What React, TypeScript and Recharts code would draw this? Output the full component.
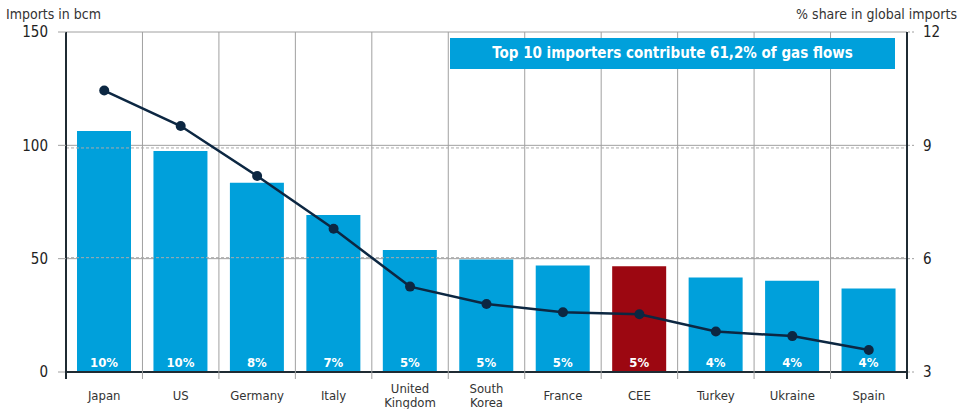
import {
  ComposedChart,
  Bar,
  Line,
  XAxis,
  YAxis,
  CartesianGrid,
  ReferenceLine,
  LabelList,
  Cell,
} from "recharts";

const countries = [
  "Japan",
  "US",
  "Germany",
  "Italy",
  "United Kingdom",
  "South Korea",
  "France",
  "CEE",
  "Turkey",
  "Ukraine",
  "Spain",
];
const importsBcm = [106.3, 97.5, 83.5, 69.3, 53.8, 49.6, 47.0, 46.6, 41.7, 40.3, 36.8];
const sharePct = [10.45, 9.51, 8.19, 6.79, 5.26, 4.8, 4.58, 4.53, 4.07, 3.95, 3.58];
const shareLabels = ["10%", "10%", "8%", "7%", "5%", "5%", "5%", "5%", "4%", "4%", "4%"];
const highlighted = "CEE";
const leftTicks = [0, 50, 100, 150];
const rightTicks = [3, 6, 9, 12];
const dashedLevels = [6, 9];

const data = countries.map((c, i) => ({
  country: c,
  bcm: importsBcm[i],
  share: sharePct[i],
  label: shareLabels[i],
}));

const FONT = '"DejaVu Sans Condensed", "DejaVu Sans", sans-serif';
const BLUE = "#00a0db";
const RED = "#9c0711";
const NAVY = "#0c2742";
const AXIS = "#1f2b33";
const GRID = "#a0a0a0";

function CountryTick(props: any) {
  const { x, y, payload, index, visibleTicksCount } = props;
  const half = payload.offset ?? 0;
  const lines = String(payload.value).split(" ");
  const first = lines.length > 1 ? 16 : 23;
  const firstTick = index === 0;
  return (
    <g>
      <line
        x1={x - half}
        x2={x - half}
        y1={y - 1}
        y2={y + 7}
        stroke={firstTick ? AXIS : GRID}
        strokeWidth={firstTick ? 2 : 1}
      />
      {index === visibleTicksCount - 1 && (
        <line x1={x + half} x2={x + half} y1={y - 1} y2={y + 7} stroke={AXIS} strokeWidth={2} />
      )}
      <text x={x} y={y} textAnchor="middle" fill="#333" fontSize={13} fontFamily={FONT}>
        {lines.map((l, i) => (
          <tspan key={i} x={x} y={y + first + i * 14} dominantBaseline="central">
            {l}
          </tspan>
        ))}
      </text>
    </g>
  );
}

// vertical grid lines sit on the borders between categories
const categoryBorders = ({ offset }: any) =>
  Array.from({ length: countries.length + 1 }, (_, i) => offset.left + (offset.width * i) / countries.length);

export default function App() {
  return (
    <div style={{ position: "absolute", left: 0, top: 0, width: 969, height: 409, fontFamily: FONT, background: "#fff" }}>
      <div style={{ position: "absolute", left: 6, top: 4, fontSize: 14, color: "#333", lineHeight: "20px" }}>
        Imports in bcm
      </div>
      <div style={{ position: "absolute", right: 12, top: 4, fontSize: 14, color: "#333", lineHeight: "20px" }}>
        % share in global imports
      </div>
      <ComposedChart
        width={969}
        height={409}
        data={data}
        margin={{ top: 32, right: 0, bottom: 0, left: 0 }}
      >
        <XAxis
          xAxisId="cat"
          dataKey="country"
          height={37}
          interval={0}
          tickLine={false}
          tickSize={0}
          tickMargin={0}
          axisLine={{ stroke: AXIS, strokeWidth: 2 }}
          tick={<CountryTick />}
        />
        <YAxis
          yAxisId="left"
          width={66}
          domain={[0, 150]}
          ticks={leftTicks}
          tickSize={8}
          tickMargin={10}
          tickLine={{ stroke: GRID }}
          axisLine={{ stroke: AXIS, strokeWidth: 2 }}
          tick={{ fill: "#222", fontSize: 15, fontFamily: FONT }}
        />
        <YAxis
          yAxisId="right"
          orientation="right"
          width={62}
          domain={[3, 12]}
          ticks={rightTicks}
          tickSize={7}
          tickMargin={9}
          tickLine={{ stroke: GRID, strokeDasharray: "2 2" }}
          axisLine={{ stroke: AXIS, strokeWidth: 2 }}
          tick={{ fill: "#222", fontSize: 15, fontFamily: FONT }}
        />
        <YAxis yAxisId="dash" hide width={0} domain={[2.874, 12.17]} allowDataOverflow />
        <CartesianGrid
          xAxisId="cat"
          yAxisId="left"
          stroke={GRID}
          verticalCoordinatesGenerator={categoryBorders}
        />
        {dashedLevels.map((v) => (
          <ReferenceLine
            key={v}
            yAxisId="dash"
            xAxisId="cat"
            y={v}
            stroke="#aaaaaa"
            strokeDasharray="3 2"
          />
        ))}
        <Bar xAxisId="cat" yAxisId="left" dataKey="bcm" barSize={54} isAnimationActive={false}>
          {data.map((d) => (
            <Cell key={d.country} fill={d.country === highlighted ? RED : BLUE} />
          ))}
          <LabelList
            dataKey="label"
            position="insideBottom"
            offset={5}
            fill="#fff"
            fontSize={13}
            fontWeight="bold"
            fontFamily={FONT}
          />
        </Bar>
        <Line
          xAxisId="cat"
          yAxisId="right"
          dataKey="share"
          stroke={NAVY}
          strokeWidth={2.5}
          dot={{ r: 5, fill: NAVY, stroke: NAVY, strokeWidth: 0 }}
          activeDot={false}
          isAnimationActive={false}
        />
      </ComposedChart>
      <div
        style={{
          position: "absolute",
          left: 450,
          top: 38,
          width: 445,
          height: 31,
          background: BLUE,
          color: "#fff",
          fontWeight: "bold",
          fontSize: 15,
          lineHeight: "31px",
          textAlign: "center",
        }}
      >
        Top 10 importers contribute 61,2% of gas flows
      </div>
    </div>
  );
}
